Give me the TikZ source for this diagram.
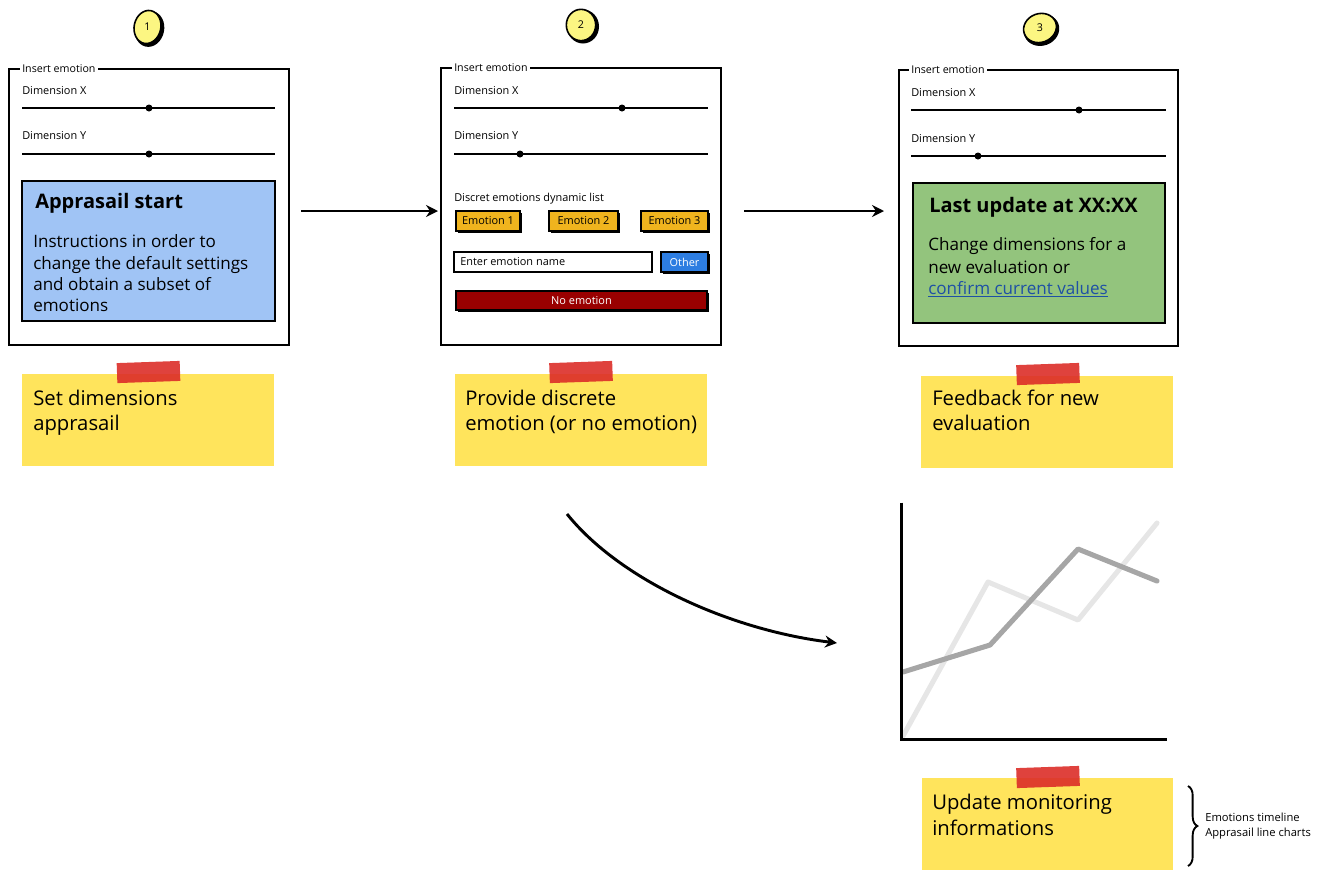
\documentclass[tikz,border=0pt]{standalone}
\usepackage{fontspec}
\setmainfont{Open Sans}
\usetikzlibrary{shapes.geometric,arrows.meta,decorations.pathreplacing,fit,shadows}
\definecolor{bluebox}{RGB}{160,196,245}
\definecolor{greenbox}{RGB}{147,196,125}
\definecolor{emobtn}{RGB}{240,180,30}
\definecolor{otherbtn}{RGB}{45,125,225}
\definecolor{noemo}{RGB}{153,0,0}
\definecolor{sticky}{RGB}{255,228,92}
\definecolor{tape}{RGB}{220,45,40}
\definecolor{linkc}{RGB}{30,80,165}
\definecolor{chartdark}{RGB}{166,166,166}
\definecolor{chartlight}{RGB}{230,230,230}
\definecolor{badgey}{RGB}{252,246,130}
\begin{document}
\begin{tikzpicture}[x=0.75pt,y=-0.75pt,
  panel/.style={draw=black,line width=1.5pt,inner sep=0pt,fill=white},
  legend/.style={fill=white,inner xsep=1.5pt,inner ysep=1pt,anchor=base west,font=\fontsize{8}{9.5}\selectfont},
  small/.style={inner sep=0pt,anchor=base west,font=\fontsize{8.2}{10}\selectfont},
  slider/.style={line width=1.2pt},
  knob/.style={fill=black},
  infobox/.style={draw=black,line width=1.1pt,inner sep=0pt},
  boxtitle/.style={inner sep=0pt,anchor=base west,font=\fontsize{15}{18}\selectfont\bfseries},
  boxtext/.style={inner sep=0pt,anchor=base west,font=\fontsize{12.8}{15}\selectfont},
  btn/.style={draw=black,line width=0.9pt,inner sep=0pt,font=\fontsize{8.2}{10}\selectfont,
    drop shadow={shadow xshift=1.6pt,shadow yshift=-1.6pt,fill=black,opacity=1}},
  note/.style={fill=sticky,inner sep=0pt},
  notetext/.style={inner sep=0pt,anchor=base west,font=\fontsize{15.2}{18}\selectfont},
  tapebox/.style={fill=tape,opacity=0.9,inner sep=0pt,minimum width=47.25pt,minimum height=15pt},
  badge/.style={ellipse,fill=badgey,draw=black,line width=1.2pt,inner sep=0pt},
  badgeshadow/.style={ellipse,fill=black,inner sep=0pt},
  badgenum/.style={inner sep=0pt,font=\fontsize{8}{9}\selectfont},
  flow/.style={line width=2.2pt,-{Stealth[length=9pt,width=9pt,inset=3pt]}},
  brace text/.style={inner sep=0pt,anchor=base west,font=\fontsize{8.4}{10}\selectfont}
]
\useasboundingbox (0,0) rectangle (1324,872);

% ---------- badges ----------
\node[badgeshadow,minimum width=22pt,minimum height=27pt,rotate=-12] (b1s) at (149.5,29) {};
\node[badge,minimum width=20pt,minimum height=25pt,rotate=-12] (b1) at (147.5,27) {};
\node[badgenum] (b1n) at (b1.center) {1};
\node[badgeshadow,minimum width=24pt,minimum height=25.5pt] (b2s) at (583,26.5) {};
\node[badge,minimum width=22pt,minimum height=23.5pt] (b2) at (581,25) {};
\node[badgenum] (b2n) at (b2.center) {2};
\node[badgeshadow,minimum width=27pt,minimum height=23.5pt,rotate=20] (b3s) at (1041.5,30) {};
\node[badge,minimum width=25pt,minimum height=21.5pt,rotate=20] (b3) at (1040,28) {};
\node[badgenum] (b3n) at (b3.center) {3};

% ---------- panel 1 ----------
\node[panel,fit={(9,69)(289,345)}] (p1) {};
\node[legend] (p1l) at (20,72) {Insert emotion};
\node[small] (p1dx) at (22,94) {Dimension X};
\draw[slider] (22,108) -- (275,108);
\fill[knob] (149,108) circle (3.5);
\node[small] (p1dy) at (22,139) {Dimension Y};
\draw[slider] (22,154) -- (275,154);
\fill[knob] (149,154) circle (3.5);
\node[infobox,fill=bluebox,fit={(22,181)(275,321)}] (bb) {};
\node[boxtitle] (bbt) at (35,208) {Apprasail start};
\node[boxtext] (bb1) at (33,247) {Instructions in order to};
\node[boxtext] (bb2) at (33,269) {change the default settings};
\node[boxtext] (bb3) at (33,290) {and obtain a subset of};
\node[boxtext] (bb4) at (33,311) {emotions};

% ---------- panel 2 ----------
\node[panel,fit={(441,68)(721,345)}] (p2) {};
\node[legend] (p2l) at (452,71) {Insert emotion};
\node[small] (p2dx) at (454,94) {Dimension X};
\draw[slider] (454,108) -- (708,108);
\fill[knob] (622,108) circle (3.5);
\node[small] (p2dy) at (454,139) {Dimension Y};
\draw[slider] (454,154) -- (708,154);
\fill[knob] (520,154) circle (3.5);
\node[small] (p2list) at (454,201) {Discret emotions dynamic list};
\node[btn,fill=emobtn,fit={(456,211)(520,231)}] (e1) {};
\node[small,anchor=center] at (e1.center) {Emotion 1};
\node[btn,fill=emobtn,fit={(549,211)(618,231)}] (e2) {};
\node[small,anchor=center] at (e2.center) {Emotion 2};
\node[btn,fill=emobtn,fit={(641,211)(708,231)}] (e3) {};
\node[small,anchor=center] at (e3.center) {Emotion 3};
\node[draw=black,line width=1pt,fill=white,inner sep=0pt,fit={(454,252)(652,272)}] (inp) {};
\node[small] (inpt) at (460,265.5) {Enter emotion name};
\node[btn,fill=otherbtn,fit={(661,252)(708,272)}] (oth) {};
\node[small,anchor=center,text=white] at (oth.center) {Other};
\node[btn,fill=noemo,fit={(456,291)(707,310)}] (ne) {};
\node[small,anchor=center,text=white] at (ne.center) {No emotion};

% ---------- panel 3 ----------
\node[panel,fit={(899,70)(1178,346)}] (p3) {};
\node[legend] (p3l) at (909,73) {Insert emotion};
\node[small] (p3dx) at (911,96) {Dimension X};
\draw[slider] (911,110) -- (1166,110);
\fill[knob] (1079,110) circle (3.5);
\node[small] (p3dy) at (911,142) {Dimension Y};
\draw[slider] (911,156) -- (1166,156);
\fill[knob] (978,156) circle (3.5);
\node[infobox,fill=greenbox,fit={(913,183)(1165,323)}] (gb) {};
\node[boxtitle] (gbt) at (929,212) {Last update at XX:XX};
\node[boxtext] (gb1) at (928,250) {Change dimensions for a};
\node[boxtext] (gb2) at (928,273) {new evaluation or};
\node[boxtext,text=linkc] (gb3) at (928,294) {\underline{confirm current values}};

% ---------- sticky notes ----------
\node[note,fit={(22,374)(274,466)}] (n1) {};
\node[tapebox,rotate=2] (t1) at (148.5,372) {};
\node[notetext] (n1a) at (33,405) {Set dimensions};
\node[notetext] (n1b) at (33,430) {apprasail};

\node[note,fit={(455,374)(707,466)}] (n2) {};
\node[tapebox,rotate=2] (t2) at (581,372) {};
\node[notetext] (n2a) at (465,405) {Provide discrete};
\node[notetext] (n2b) at (465,430) {emotion (or no emotion)};

\node[note,fit={(921,376)(1173,468)}] (n3) {};
\node[tapebox,rotate=2] (t3) at (1048,374) {};
\node[notetext] (n3a) at (932,405) {Feedback for new};
\node[notetext] (n3b) at (932,430) {evaluation};

\node[note,fit={(922,778)(1173,870)}] (n4) {};
\node[tapebox,rotate=2] (t4) at (1048,777) {};
\node[notetext] (n4a) at (932,809) {Update monitoring};
\node[notetext] (n4b) at (932,835) {informations};

% ---------- chart ----------
\node[inner sep=0pt,fit={(902,503)(1167,739)}] (chart) {};
\draw[chartlight,line width=3.8pt,line join=round,line cap=round] (903,736) -- (988,582) -- (1078,620) -- (1157,523);
\draw[chartdark,line width=3.8pt,line join=round,line cap=round] (903,672) -- (990,645) -- (1078,549) -- (1157,581);
\draw[line width=2.2pt] (chart.north west) -- (chart.south west) -- (chart.south east);

% ---------- connectors ----------
\coordinate (a1s) at (301,211);
\coordinate (a1e) at (438,211);
\coordinate (a2s) at (744,211);
\coordinate (a2e) at (884,211);
\coordinate (cs) at (567,514);
\coordinate (ce) at (837,643);
\draw[flow] (a1s) -- (a1e);
\draw[flow] (a2s) -- (a2e);
\draw[flow] (cs) .. controls (620,580) and (730,630) .. (ce);

% ---------- brace ----------
\coordinate (br1) at (1188,786);
\coordinate (br2) at (1188,866);
\draw[line width=1.4pt,decorate,decoration={brace,amplitude=7pt}] (br1) -- (br2);
\node[brace text] (bt1) at (1205,821) {Emotions timeline};
\node[brace text] (bt2) at (1205,836) {Apprasail line charts};
\end{tikzpicture}
\end{document}
